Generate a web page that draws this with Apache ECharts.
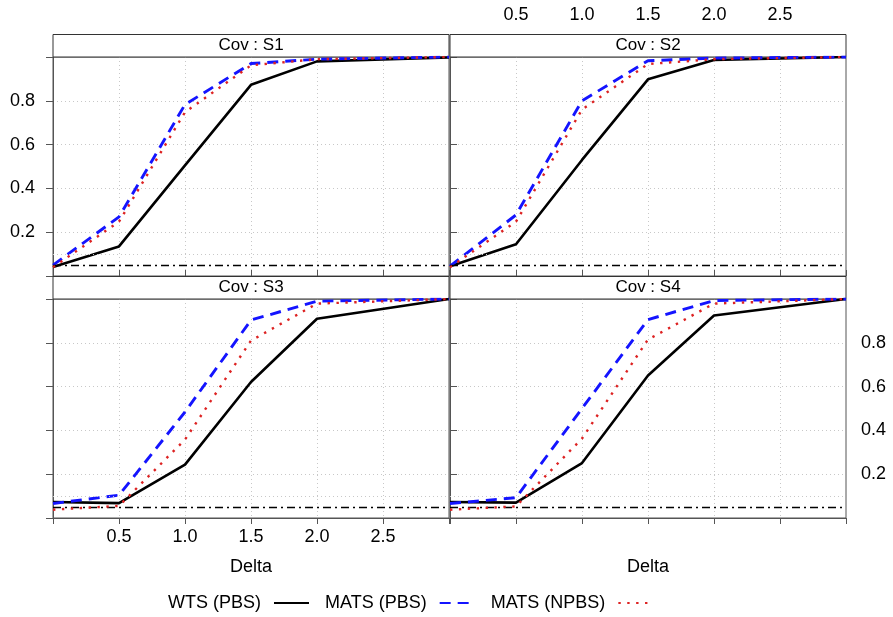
<!DOCTYPE html>
<html>
<head>
<meta charset="utf-8">
<script src="https://cdn.jsdelivr.net/npm/echarts@6/dist/echarts.min.js"></script>
<style>
  html, body { margin: 0; padding: 0; background: #fff; }
  #chart { width: 893px; height: 617px; }
</style>
</head>
<body>
<div id="chart"></div>
<script>
// 数据：Delta 取值与各面板的检验功效
const delta = [0, 0.5, 1, 1.5, 2, 3];
const panelNames = ['Cov : S1', 'Cov : S2', 'Cov : S3', 'Cov : S4'];
const seriesNames = ['WTS (PBS)', 'MATS (PBS)', 'MATS (NPBS)'];
const xTickLabels = ['0.5', '1.0', '1.5', '2.0', '2.5'];
const yTickLabels = ['0.2', '0.4', '0.6', '0.8'];
const alphaLevel = 0.05;
const gridRefLevel = 0.1;

const wtsS1 = [0.041, 0.135, 0.505, 0.873, 0.980, 0.998];
const matsPbsS1 = [0.050, 0.270, 0.783, 0.970, 0.990, 1.000];
const matsNpbsS1 = [0.040, 0.248, 0.748, 0.962, 0.990, 1.000];

const wtsS2 = [0.045, 0.145, 0.530, 0.898, 0.986, 1.000];
const matsPbsS2 = [0.045, 0.279, 0.800, 0.983, 0.995, 1.000];
const matsNpbsS2 = [0.040, 0.248, 0.760, 0.968, 0.990, 1.000];

const wtsS3 = [0.073, 0.068, 0.244, 0.621, 0.910, 1.000];
const matsPbsS3 = [0.066, 0.104, 0.484, 0.904, 0.990, 1.000];
const matsNpbsS3 = [0.038, 0.055, 0.358, 0.810, 0.979, 1.000];

const wtsS4 = [0.073, 0.070, 0.251, 0.651, 0.925, 1.000];
const matsPbsS4 = [0.066, 0.093, 0.500, 0.906, 0.993, 1.000];
const matsNpbsS4 = [0.038, 0.053, 0.363, 0.815, 0.979, 1.000];

const panelData = [
    [wtsS1, matsPbsS1, matsNpbsS1],
    [wtsS2, matsPbsS2, matsNpbsS2],
    [wtsS3, matsPbsS3, matsNpbsS3],
    [wtsS4, matsPbsS4, matsNpbsS4]
];

const chart = echarts.init(document.getElementById('chart'));

const stripH = 22.5;
const grids = [
    { left: 53, top: 57, width: 396, height: 219 },
    { left: 450, top: 57, width: 396, height: 219 },
    { left: 53, top: 299, width: 396, height: 219 },
    { left: 450, top: 299, width: 396, height: 219 }
];

const frameColor = '#555';
const fontFamily = 'Liberation Sans';
const gridLine = { show: true, showMinLine: false, showMaxLine: false,
    lineStyle: { color: '#c8c8c8', type: [1, 3], width: 1 } };

const xAxes = grids.map((g, i) => {
    const topRow = i < 2;
    return {
        type: 'value', gridIndex: i, min: 0, max: 3, interval: 0.5,
        position: topRow ? 'top' : 'bottom',
        offset: topRow ? stripH : 0,
        axisLine: { show: true, lineStyle: { color: frameColor } },
        axisTick: { show: true, inside: false, length: 6, lineStyle: { color: frameColor } },
        axisLabel: {
            show: i === 1 || i === 2,
            margin: 10,
            fontSize: 18, color: '#000', fontFamily: fontFamily,
            formatter: v => xTickLabels.includes(v.toFixed(1)) ? v.toFixed(1) : ''
        },
        splitLine: gridLine,
        name: topRow ? '' : 'Delta',
        nameLocation: 'middle',
        nameGap: 40,
        nameTextStyle: { fontSize: 18, color: '#000', fontFamily: fontFamily }
    };
});

const yAxes = grids.map((g, i) => {
    const right = i === 1 || i === 3;
    return {
        type: 'value', gridIndex: i, min: 0, max: 1, interval: 0.2,
        position: right ? 'right' : 'left',
        axisLine: { show: true, lineStyle: { color: frameColor } },
        axisTick: { show: true, inside: false, length: 7, lineStyle: { color: frameColor } },
        axisLabel: {
            show: i === 0 || i === 3,
            margin: right ? 15 : 18,
            fontSize: 18, color: '#000', fontFamily: fontFamily,
            formatter: v => yTickLabels.includes(v.toFixed(1)) ? v.toFixed(1) : ''
        },
        splitLine: gridLine
    };
});

const lineStyles = [
    { color: '#000', width: 2.6, type: 'solid' },
    { color: '#1414ff', width: 2.9, type: [11, 7] },
    { color: '#dd2222', width: 2.4, type: [2.4, 6.5] }
];

const series = [];
panelData.forEach((arrs, p) => {
    arrs.forEach((vals, k) => {
        const s = {
            name: seriesNames[k],
            type: 'line',
            xAxisIndex: p, yAxisIndex: p,
            symbol: 'none',
            itemStyle: { color: lineStyles[k].color },
            lineStyle: lineStyles[k],
            data: delta.map((d, j) => [d, vals[j]]),
            z: 3 + k
        };
        if (k === 0) {
            s.markLine = {
                silent: true, symbol: 'none', label: { show: false },
                data: [
                    { yAxis: gridRefLevel, lineStyle: { color: '#c8c8c8', type: [1, 3], width: 1 } },
                    { yAxis: alphaLevel, lineStyle: { color: '#000', type: [8, 4, 2, 4], width: 1.3 } }
                ]
            };
        }
        series.push(s);
    });
});

const graphics = [];
grids.forEach((g, i) => {
    graphics.push({
        type: 'rect',
        shape: { x: g.left, y: g.top - stripH, width: g.width, height: stripH },
        style: { fill: '#fff', stroke: '#333', lineWidth: 1 },
        z: 1
    });
    graphics.push({
        type: 'text',
        x: g.left + g.width / 2, y: g.top - stripH / 2,
        style: { text: panelNames[i], fontSize: 17, fontFamily: fontFamily,
            fill: '#000', align: 'center', verticalAlign: 'middle' },
        z: 2
    });
});

const option = {
    animation: false,
    backgroundColor: '#fff',
    grid: grids.map(g => Object.assign({ show: true, borderColor: frameColor, borderWidth: 1,
        backgroundColor: 'transparent' }, g)),
    xAxis: xAxes,
    yAxis: yAxes,
    legend: {
        data: seriesNames,
        left: 163, top: 589,
        align: 'right',
        itemWidth: 35, itemHeight: 14, itemGap: 15,
        itemStyle: { opacity: 0 },
        textStyle: { fontSize: 18, color: '#000', fontFamily: fontFamily, padding: [0, 8, 0, 0] }
    },
    graphic: graphics,
    series: series
};

chart.setOption(option);

window.addEventListener('resize', () => {
    chart.resize();
});
</script>
</body>
</html>
